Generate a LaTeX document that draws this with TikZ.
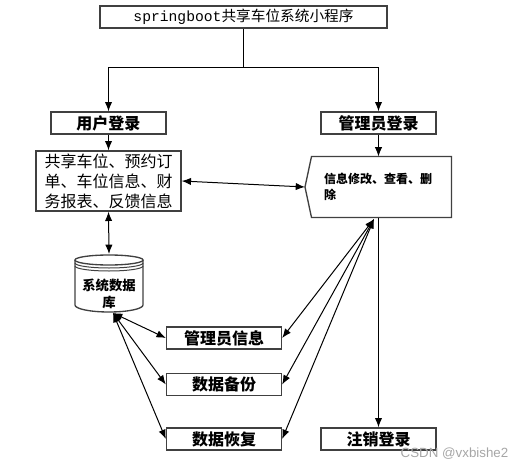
\documentclass[tikz,border=0pt]{standalone}
\usepackage{fontspec}
\setmainfont{Noto Sans CJK SC}
\setsansfont{Liberation Sans}
\setmonofont{Liberation Mono}
\usetikzlibrary{arrows.meta}
\tikzset{every picture/.style={line width=0.75pt}}
\tikzset{
boxnode/.style={draw=black!75, line width=1pt, inner sep=0pt, minimum width=86.25pt, minimum height=16.5pt, font=\bfseries\fontsize{12pt}{14pt}\selectfont},
plain/.style={inner sep=0pt, align=left},
link/.style={-{Latex[length=7pt,width=5.5pt]}},
twoway/.style={{Latex[length=7pt,width=5.5pt]}-{Latex[length=7pt,width=5.5pt]}}}

\begin{document}
\begin{tikzpicture}[x=0.75pt,y=0.75pt,yscale=-1,xscale=1]
\useasboundingbox (0,0) rectangle (522,468);

% Text Node
\node [boxnode, minimum width=215.25pt, font=\fontsize{11pt}{13pt}\selectfont] (title) at (243.5,17) {\texttt{springboot}共享车位系统小程序};
% Text Node
\node [boxnode] (user) at (108.5,123) {用户登录};
% Text Node
\node [boxnode] (admin) at (378.5,123) {管理员登录};
% Text Node
\node [boxnode, minimum width=108.75pt, minimum height=45pt, align=center, font=\fontsize{12pt}{15pt}\selectfont] (funcs) at (108.5,181) {共享车位、预约订\\单、车位信息、财\\务报表、反馈信息};
% Text Node
\node [plain, minimum width=104.25pt, minimum height=45pt, text width=86pt, font=\bfseries\fontsize{9pt}{12pt}\selectfont] (info) at (381.5,187) {信息修改、查看、删\\除};
\coordinate (infotip) at (305,187);
\draw [draw=black!75, line width=1pt] (info.north west) -- (infotip) -- (info.south west) -- (info.south east) -- (info.north east) -- cycle;

%Database
\draw [draw=black!75, line width=1pt] (75,260) -- (75,305) arc [start angle=180, end angle=0, x radius=34, y radius=7] -- (143,260);
\draw [draw=black!75, line width=1pt] (109,260) ellipse [x radius=34, y radius=5];
\draw [draw=black!75] (75,263) arc [start angle=180, end angle=0, x radius=34, y radius=5];
\draw [draw=black!75] (75,266) arc [start angle=180, end angle=0, x radius=34, y radius=5];
\node [plain, align=center, font=\bfseries\fontsize{10pt}{12.75pt}\selectfont] (db) at (109,293.5) {系统数据\\库};
\coordinate (dbtop) at (109,254);
\coordinate (dbbot) at (113,313);

% Text Node
\node [boxnode] (mgr) at (224,338) {管理员信息};
% Text Node
\node [boxnode] (backup) at (224,384.5) {数据备份};
% Text Node
\node [boxnode] (restore) at (224,439) {数据恢复};
% Text Node
\node [boxnode] (logout) at (378.5,439) {注销登录};

%Straight Lines
\coordinate (split) at (243.5,67);
\draw (title.south) -- (split);
\draw [link] (split) -| (user.north);
\draw [link] (split) -| (admin.north);
\draw [link] (user.south) -- (funcs.north);
\draw [link] (admin.south) -- (admin.south |- info.north);
\draw [twoway] (funcs.east) -- (infotip);
\draw [twoway] (funcs.south) -- (dbtop);
\foreach \n in {mgr,backup,restore} \draw [twoway] (dbbot) -- (\n.west);
\coordinate (infobot) at (374,219);
\foreach \n in {mgr,backup,restore} \draw [twoway] (infobot) -- (\n.east);
\draw [link] (admin.south |- info.south) -- (logout.north);

% Text Node
\node [font=\sffamily\fontsize{10pt}{11pt}\selectfont, text=black!35] (mark) at (454.5,454) {CSDN @vxbishe2};

\end{tikzpicture}
\end{document}
